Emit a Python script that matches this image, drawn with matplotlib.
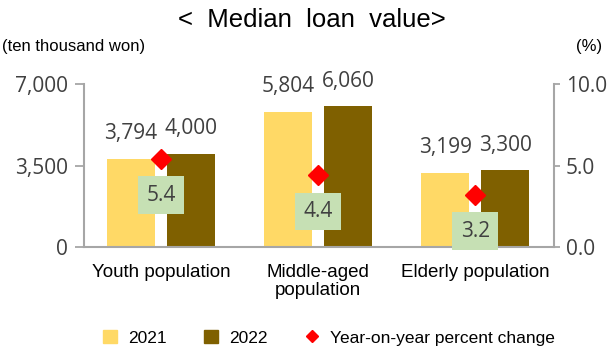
import numpy as np
import matplotlib.pyplot as plt
from matplotlib.lines import Line2D
from matplotlib.patches import Patch

groups = ['Youth population', 'Middle-aged\npopulation', 'Elderly population']
loan_2021 = [3794, 5804, 3199]
loan_2022 = [4000, 6060, 3300]
yoy_change = [5.4, 4.4, 3.2]

c2021 = '#FFD966'
c2022 = '#7F6000'
cgrid = '#A6A6A6'
cnum = '#404040'

plt.rcParams['font.family'] = ['Liberation Sans', 'DejaVu Sans']

fig = plt.figure(figsize=(6.15, 3.55), dpi=100)
ax = fig.add_axes([0.1366, 0.304, 0.764, 0.459])
x = np.arange(len(groups))
w = 0.306
off = 0.191

ax.bar(x - off, loan_2021, w, color=c2021, zorder=2)
ax.bar(x + off, loan_2022, w, color=c2022, zorder=2)
for xs, vals in [(x - off, loan_2021), (x + off, loan_2022)]:
    for xi, v in zip(xs, vals):
        ax.annotate(f'{v:,}', (xi, v), xytext=(0, 18), textcoords='offset points',
                    ha='center', va='center', fontsize=15, color=cnum, family='Open Sans')

ax.set_xlim(-0.49, 2.50)
ax.set_ylim(0, 7000)
ax.set_yticks([0, 3500, 7000])
ax.set_yticklabels(['0', '3,500', '7,000'])
ax.set_xticks(x)
ax.set_xticklabels(groups, fontsize=13.5, linespacing=1.12)
ax.tick_params(axis='x', length=0, pad=12)
ax.tick_params(axis='y', colors=cgrid, labelcolor=cnum, labelsize=15, length=6.5, width=1.3, pad=5)
for lab in ax.get_yticklabels():
    lab.set_family('Open Sans')
for s in ['top', 'right']:
    ax.spines[s].set_visible(False)
for s in ['left', 'bottom']:
    ax.spines[s].set_color(cgrid)
    ax.spines[s].set_linewidth(1.5)

ax2 = ax.twinx()
ax2.set_ylim(0, 10)
ax2.set_yticks([0, 5, 10])
ax2.set_yticklabels(['0.0', '5.0', '10.0'])
ax2.plot(x, yoy_change, linestyle='none', marker='D', markersize=10,
         color='#FF0000', zorder=3)
for xi, v in zip(x, yoy_change):
    ax2.annotate(f'{v:.1f}', (xi, v), xytext=(0, -26), textcoords='offset points',
                 ha='center', va='center', fontsize=15, color=cnum, family='Open Sans',
                 bbox=dict(boxstyle='square,pad=0.4', fc='#C6E0B4', ec='none'))
ax2.tick_params(axis='y', colors=cgrid, labelcolor=cnum, labelsize=15, length=4.5, width=1.3, pad=4)
for lab in ax2.get_yticklabels():
    lab.set_family('Open Sans')
for s in ['top', 'left', 'bottom']:
    ax2.spines[s].set_visible(False)
ax2.spines['right'].set_color(cgrid)
ax2.spines['right'].set_linewidth(1.5)

fig.text(0.507, 0.944, '<  Median  loan  value>', ha='center', va='center', fontsize=18.5)
fig.text(0.004, 0.868, '(ten thousand won)', ha='left', va='center', fontsize=12)
fig.text(0.958, 0.868, '(%)', ha='center', va='center', fontsize=12)

handles = [Patch(color=c2021), Patch(color=c2022),
           Line2D([], [], linestyle='none', marker='D', markersize=6.5, color='#FF0000')]
fig.legend(handles, ['2021', '2022', 'Year-on-year percent change'],
           loc='center', bbox_to_anchor=(0.535, 0.048), ncol=3, frameon=False,
           fontsize=12.5, handlelength=0.8, handleheight=0.8, columnspacing=2.2,
           handletextpad=0.6)

fig.savefig('out.png', dpi=100)
